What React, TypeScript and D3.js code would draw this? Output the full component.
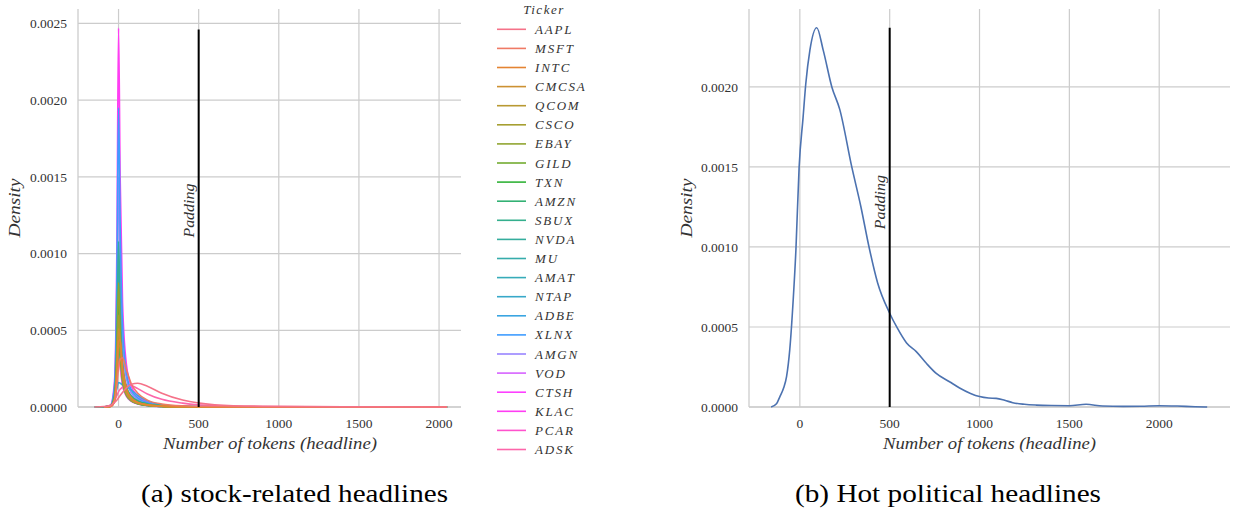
import React from 'react';
import * as d3 from 'd3';

// ---------- DATA ----------
const TICKERS = ['AAPL', 'MSFT', 'INTC', 'CMCSA', 'QCOM', 'CSCO', 'EBAY', 'GILD', 'TXN', 'AMZN', 'SBUX', 'NVDA', 'MU', 'AMAT', 'NTAP', 'ADBE', 'XLNX', 'AMGN', 'VOD', 'CTSH', 'KLAC', 'PCAR', 'ADSK'];

// token grid shared by every ticker curve (left panel)
const LEFT_TOKENS = [-150, -90, -50, -25, -10, 0, 10, 25, 50, 80, 120, 180, 270, 400, 600, 900, 1400, 2050];
// densities in units of 1e-4
const DENSITY_UNIT = 1e-4;
const AAPL = [0, 0.03, 0.12, 0.3, 0.45, 0.6, 0.75, 0.95, 1.25, 1.48, 1.55, 1.35, 0.9, 0.45, 0.15, 0.05, 0.02, 0];
const MSFT = [0, 0, 0.05, 0.4, 1.5, 2.6, 3.1, 3.2, 2.4, 1.5, 0.9, 0.45, 0.2, 0.08, 0.03, 0.01, 0.004, 0];
const INTC = [0, 0, 0.04, 0.4, 2.2, 4.3, 4.4, 2.6, 1.2, 0.6, 0.3, 0.15, 0.06, 0.02, 0.008, 0.003, 0.001, 0];
const CMCSA = [0, 0, 0.05, 0.5, 2.6, 5.1, 4.3, 2.2, 0.95, 0.5, 0.27, 0.13, 0.05, 0.02, 0.006, 0.002, 0.001, 0];
const QCOM = [0, 0, 0.04, 0.35, 1.9, 3.9, 4.0, 2.4, 1.1, 0.55, 0.3, 0.14, 0.06, 0.02, 0.007, 0.002, 0.001, 0];
const CSCO = [0, 0, 0.05, 0.5, 2.8, 6.0, 3.9, 1.8, 0.8, 0.42, 0.23, 0.11, 0.04, 0.015, 0.005, 0.002, 0.001, 0];
const EBAY = [0, 0, 0.06, 0.6, 3.6, 8.1, 5.0, 2.3, 0.95, 0.5, 0.27, 0.12, 0.05, 0.018, 0.006, 0.002, 0.001, 0];
const GILD = [0, 0, 0.05, 0.5, 2.5, 5.5, 3.6, 1.7, 0.75, 0.4, 0.22, 0.1, 0.04, 0.015, 0.005, 0.002, 0.001, 0];
const TXN = [0, 0, 0.05, 0.55, 3.1, 7.0, 4.4, 2.0, 0.85, 0.45, 0.24, 0.11, 0.045, 0.016, 0.005, 0.002, 0.001, 0];
const AMZN = [0, 0.01, 0.08, 0.6, 2.0, 3.8, 3.3, 2.2, 1.2, 0.7, 0.4, 0.2, 0.09, 0.035, 0.012, 0.004, 0.001, 0];
const SBUX = [0, 0, 0.05, 0.5, 2.9, 6.5, 4.1, 1.9, 0.8, 0.43, 0.23, 0.1, 0.04, 0.015, 0.005, 0.002, 0.001, 0];
const NVDA = [0, 0, 0.07, 0.8, 4.8, 10.8, 6.6, 3.0, 1.3, 0.7, 0.4, 0.2, 0.09, 0.03, 0.01, 0.003, 0.001, 0];
const MU = [0, 0, 0.06, 0.7, 4.0, 9.0, 5.6, 2.6, 1.1, 0.6, 0.33, 0.15, 0.06, 0.02, 0.007, 0.002, 0.001, 0];
const AMAT = [0, 0, 0.06, 0.6, 3.4, 7.5, 4.7, 2.2, 0.95, 0.5, 0.28, 0.13, 0.05, 0.018, 0.006, 0.002, 0.001, 0];
const NTAP = [0, 0, 0.05, 0.5, 2.7, 6.0, 3.8, 1.8, 0.8, 0.42, 0.23, 0.1, 0.04, 0.015, 0.005, 0.002, 0.001, 0];
const ADBE = [0, 0.01, 0.1, 0.5, 1.2, 1.6, 1.55, 1.45, 1.35, 1.1, 0.75, 0.4, 0.15, 0.05, 0.015, 0.005, 0.002, 0];
const XLNX = [0, 0, 0.1, 1.4, 8.6, 19.5, 12.0, 5.4, 2.2, 1.1, 0.6, 0.28, 0.11, 0.04, 0.012, 0.004, 0.001, 0];
const AMGN = [0, 0, 0.09, 1.1, 6.7, 15.0, 9.2, 4.2, 1.8, 0.9, 0.5, 0.23, 0.09, 0.03, 0.01, 0.003, 0.001, 0];
const VOD = [0, 0, 0.05, 0.45, 2.3, 5.0, 3.2, 1.5, 0.7, 0.37, 0.2, 0.09, 0.035, 0.012, 0.004, 0.001, 0, 0];
const CTSH = [0, 0, 0.06, 0.7, 4.2, 9.5, 5.9, 2.7, 1.15, 0.6, 0.33, 0.15, 0.06, 0.02, 0.007, 0.002, 0.001, 0];
const KLAC = [0, 0, 0.12, 1.7, 10.8, 24.7, 15.0, 6.8, 2.7, 1.35, 0.72, 0.33, 0.13, 0.045, 0.014, 0.004, 0.001, 0];
const PCAR = [0, 0, 0.04, 0.35, 1.7, 3.5, 2.6, 1.4, 0.7, 0.38, 0.21, 0.1, 0.04, 0.014, 0.005, 0.002, 0.001, 0];
const ADSK = [0, 0.01, 0.1, 0.4, 0.75, 1.0, 1.15, 1.3, 1.45, 1.4, 1.2, 0.85, 0.5, 0.25, 0.08, 0.03, 0.01, 0];
const LEFT_SERIES = [AAPL, MSFT, INTC, CMCSA, QCOM, CSCO, EBAY, GILD, TXN, AMZN, SBUX, NVDA, MU, AMAT, NTAP, ADBE, XLNX, AMGN, VOD, CTSH, KLAC, PCAR, ADSK];

// right panel: political headlines
const POLITICAL_TOKENS = [-160, -130, -111, -90, -74, -56, -37, -22, -4, 18, 33, 56, 94, 130, 178, 222, 289, 340, 385, 433, 500, 539, 594, 648, 704, 759, 833, 889, 950, 1000, 1050, 1093, 1140, 1185, 1250, 1315, 1400, 1500, 1593, 1685, 1800, 1900, 2000, 2100, 2200, 2267];
const POLITICAL_DENSITY = [0, 0.2, 0.65, 1.2, 1.9, 3.6, 6.7, 9.8, 15.0, 18.1, 20.2, 22.3, 23.7, 22.3, 20.0, 18.6, 15.0, 12.5, 10.0, 7.75, 5.86, 5.0, 4.0, 3.46, 2.73, 2.1, 1.58, 1.19, 0.85, 0.65, 0.56, 0.54, 0.42, 0.27, 0.17, 0.12, 0.09, 0.08, 0.17, 0.06, 0.04, 0.05, 0.08, 0.06, 0.02, 0];

const X_TICKS = [0, 500, 1000, 1500, 2000];
const LEFT_Y_TICKS = [0, 0.0005, 0.001, 0.0015, 0.002, 0.0025];
const RIGHT_Y_TICKS = [0, 0.0005, 0.001, 0.0015, 0.002];
const PADDING_TOKENS = 500;
const LEFT_PADDING_TOP = 0.00246;
const RIGHT_PADDING_TOP = 0.00237;
const PADDING_LABEL_Y = 0.00128;

// ---------- seaborn husl palette ----------
const M = [[3.2406, -1.5372, -0.4986], [-0.9689, 1.8758, 0.0415], [0.0557, -0.2040, 1.0570]];
function maxChroma(L: number, H: number) {
  const hrad = (H / 180) * Math.PI;
  const sinH = Math.sin(hrad), cosH = Math.cos(hrad);
  const sub1 = Math.pow(L + 16, 3) / 1560896;
  const sub2 = sub1 > 0.008856 ? sub1 : L / 903.3;
  let result = Infinity;
  for (const [m1, m2, m3] of M) {
    const top = (0.99915 * m1 + 1.05122 * m2 + 1.1446 * m3) * sub2;
    const rbottom = 0.8633 * m3 - 0.17266 * m2;
    const lbottom = 0.12949 * m3 - 0.38848 * m1;
    const bottom = (rbottom * sinH + lbottom * cosH) * sub2;
    for (const t of [0, 1]) {
      const C = (L * (top - 1.05122 * t)) / bottom;
      if (C > 0 && C < result) result = C;
    }
  }
  return result;
}
function huslToRgb(H: number, S: number, L: number) {
  const C = (maxChroma(L, H) / 100) * S;
  const hrad = (H / 180) * Math.PI;
  const U = Math.cos(hrad) * C, V = Math.sin(hrad) * C;
  const t = (L + 16) / 116;
  const varY = Math.pow(t, 3) > 0.008856 ? Math.pow(t, 3) : (116 * t - 16) / 903.3;
  const varU = U / (13 * L) + 0.19784;
  const varV = V / (13 * L) + 0.46834;
  const Y = varY;
  const X = 0 - (9 * Y * varU) / ((varU - 4) * varV - varU * varV);
  const Z = (9 * Y - 15 * varV * Y - varV * X) / (3 * varV);
  const rgb = M.map(r => {
    const c = r[0] * X + r[1] * Y + r[2] * Z;
    const v = c <= 0.0031308 ? 12.92 * c : 1.055 * Math.pow(c, 1 / 2.4) - 0.055;
    return Math.round(Math.max(0, Math.min(1, v)) * 255);
  });
  return `rgb(${rgb[0]},${rgb[1]},${rgb[2]})`;
}
function huslPalette(n: number) {
  const out: string[] = [];
  for (let i = 0; i < n; i++) {
    const h = ((i / n + 0.01) % 1) * 359;
    out.push(huslToRgb(h, 0.9 * 99, 0.65 * 99));
  }
  return out;
}

const GRID = '#cccccc';
const TEXT = '#333333';
const serif = { fontFamily: "'Liberation Serif'" };

function trimSeries(xs: number[], ys: number[]) {
  let a = 0;
  while (a + 1 < ys.length && ys[a + 1] === 0) a++;
  let b = ys.length - 1;
  while (b - 1 > a && ys[b - 1] === 0) b--;
  const pts: [number, number][] = [];
  for (let i = a; i <= b; i++) pts.push([xs[i], ys[i] * DENSITY_UNIT]);
  return pts;
}

export default function App() {
  const colors = huslPalette(TICKERS.length);

  // left panel scales
  const xL = d3.scaleLinear().domain([-253, 2137]).range([78, 461]);
  const yL = d3.scaleLinear().domain([0, 0.002594]).range([407, 9]);
  // right panel scales
  const xR = d3.scaleLinear().domain([-283, 2394]).range([749, 1230]);
  const yR = d3.scaleLinear().domain([0, 0.002487]).range([407, 9]);

  const lineL = d3.line<[number, number]>().x(d => xL(d[0])).y(d => yL(d[1])).curve(d3.curveMonotoneX);
  const lineR = d3.line<[number, number]>().x(d => xR(d[0])).y(d => yR(d[1])).curve(d3.curveMonotoneX);

  const fmt = d3.format('.4f');

  const axes = (x: d3.ScaleLinear<number, number>, y: d3.ScaleLinear<number, number>, yTicks: number[], key: string) => {
    const [x0, x1] = x.range();
    const [y0, y1] = y.range();
    return (
      <g key={key}>
        {X_TICKS.map(t => (
          <line key={'vx' + t} x1={x(t)} x2={x(t)} y1={y1} y2={y0} stroke={GRID} strokeWidth={1.2} />
        ))}
        {yTicks.map(t => (
          <line key={'hy' + t} x1={x0} x2={x1} y1={y(t)} y2={y(t)} stroke={GRID} strokeWidth={1.2} />
        ))}
        <line x1={x0} x2={x0} y1={y1} y2={y0} stroke={GRID} strokeWidth={1.3} />
        <line x1={x0} x2={x1} y1={y0} y2={y0} stroke={GRID} strokeWidth={1.3} />
        {X_TICKS.map(t => (
          <text key={'tx' + t} x={x(t)} y={428} textAnchor="middle" fontSize={13.5} style={serif} fill={TEXT}>{t}</text>
        ))}
        {yTicks.map(t => (
          <text key={'ty' + t} x={x0 - 11} y={y(t)} dy="0.35em" textAnchor="end" fontSize={13.5} style={serif} fill={TEXT}>{fmt(t)}</text>
        ))}
      </g>
    );
  };

  const order = TICKERS.map((_, i) => i).reverse();

  return (
    <svg width={1236} height={517} style={{ position: 'absolute', left: 0, top: 0, background: '#fff' }}>
      <rect width={1236} height={517} fill="#fff" />
      {/* Left panel */}
      {axes(xL, yL, LEFT_Y_TICKS, 'L')}
      {order.map(i => (
        <path key={TICKERS[i]} d={lineL(trimSeries(LEFT_TOKENS, LEFT_SERIES[i])) || ''} fill="none" stroke={colors[i]} strokeWidth={1.6} />
      ))}
      <line x1={xL(PADDING_TOKENS)} x2={xL(PADDING_TOKENS)} y1={yL(0)} y2={yL(LEFT_PADDING_TOP)} stroke="#000" strokeWidth={2} />
      <text transform={`translate(${xL(PADDING_TOKENS) - 5},${yL(PADDING_LABEL_Y)}) rotate(-90)`} textAnchor="middle" fontSize={15} fontStyle="italic" style={serif} fill={TEXT} textLength={54} lengthAdjust="spacingAndGlyphs">Padding</text>
      <text transform={`translate(20,208) rotate(-90)`} textAnchor="middle" fontSize={16} fontStyle="italic" style={serif} fill={TEXT} textLength={59} lengthAdjust="spacingAndGlyphs">Density</text>
      <text x={270} y={449} textAnchor="middle" fontSize={16} fontStyle="italic" style={serif} fill={TEXT} textLength={214} lengthAdjust="spacingAndGlyphs">Number of tokens (headline)</text>

      {/* Legend */}
      <text x={544} y={14} textAnchor="middle" fontSize={13} fontStyle="italic" style={serif} fill={TEXT} letterSpacing={1.5}>Ticker</text>
      {TICKERS.map((t, i) => {
        const yy = 29.3 + i * 19.1;
        return (
          <g key={'lg' + t}>
            <line x1={497} x2={526} y1={yy} y2={yy} stroke={colors[i]} strokeWidth={1.6} />
            <text x={535} y={yy} dy="0.35em" fontSize={13} fontStyle="italic" style={serif} fill={TEXT} letterSpacing={1.8}>{t}</text>
          </g>
        );
      })}

      {/* Right panel */}
      {axes(xR, yR, RIGHT_Y_TICKS, 'R')}
      <path d={lineR(POLITICAL_TOKENS.map((t, i) => [t, POLITICAL_DENSITY[i] * DENSITY_UNIT] as [number, number])) || ''} fill="none" stroke="#4c72b0" strokeWidth={1.6} />
      <line x1={xR(PADDING_TOKENS)} x2={xR(PADDING_TOKENS)} y1={yR(0)} y2={yR(RIGHT_PADDING_TOP)} stroke="#000" strokeWidth={2} />
      <text transform={`translate(${xR(PADDING_TOKENS) - 5},${yR(PADDING_LABEL_Y)}) rotate(-90)`} textAnchor="middle" fontSize={15} fontStyle="italic" style={serif} fill={TEXT} textLength={54} lengthAdjust="spacingAndGlyphs">Padding</text>
      <text transform={`translate(692,208) rotate(-90)`} textAnchor="middle" fontSize={16} fontStyle="italic" style={serif} fill={TEXT} textLength={59} lengthAdjust="spacingAndGlyphs">Density</text>
      <text x={989.5} y={449} textAnchor="middle" fontSize={16} fontStyle="italic" style={serif} fill={TEXT} textLength={213} lengthAdjust="spacingAndGlyphs">Number of tokens (headline)</text>

      {/* Captions */}
      <text x={294.5} y={502} textAnchor="middle" fontSize={26} style={serif} fill="#000" textLength={307} lengthAdjust="spacingAndGlyphs">(a) stock-related headlines</text>
      <text x={948} y={502} textAnchor="middle" fontSize={26} style={serif} fill="#000" textLength={306} lengthAdjust="spacingAndGlyphs">(b) Hot political headlines</text>
    </svg>
  );
}
